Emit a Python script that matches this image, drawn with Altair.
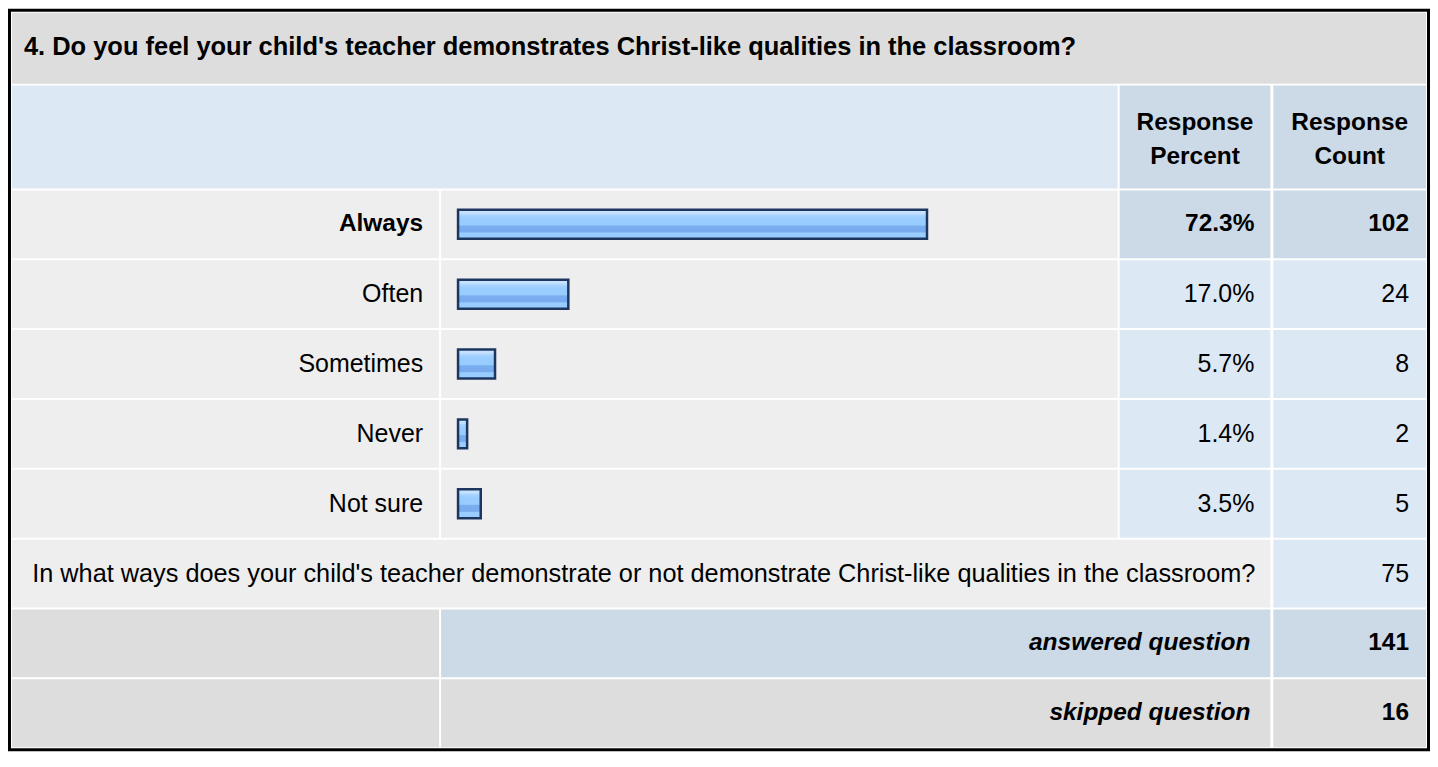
import altair as alt
import pandas as pd

# ---------------- data ----------------
question = "4. Do you feel your child's teacher demonstrates Christ-like qualities in the classroom?"
categories = ["Always", "Often", "Sometimes", "Never", "Not sure"]
percents = [72.3, 17.0, 5.7, 1.4, 3.5]
counts = [102, 24, 8, 2, 5]
header_labels = ["Response\nPercent", "Response\nCount"]
open_question = ("In what ways does your child's teacher demonstrate or not demonstrate "
                 "Christ-like qualities in the classroom?")
open_count = 75
summary_labels = ["answered question", "skipped question"]
summary_counts = [141, 16]

# ---------------- layout (pixels) ----------------
W, H = 1425, 744
GRAY, BLUE_L, BLUE_D, BODY = "#dddddd", "#dde8f5", "#ccd9e6", "#eeeeee"
C_LABEL = (4, 432)
C_BAR = (434, 1112)
C_PCT = (1114, 1265)
C_CNT = (1268, 1421)
TITLE_Y = (4, 75)
HEAD_Y = (77, 180)
ROW0, ROW_H, ROW_GAP = 182, 68, 2
BAR_RANGE = [451, 1101]
BAR_H = 29
FONT = "Liberation Sans"
FS_TITLE = 25.5
FS_BOLD = 24.5
FS_NORM = 25
FS_OPEN = 25.35


def row(i):
    s = ROW0 + i * (ROW_H + ROW_GAP)
    return s, s + ROW_H


def mid(a):
    return (a[0] + a[1]) / 2


cells = []


def cell(xr, yr, fill):
    cells.append(dict(x=xr[0], x2=xr[1], y=yr[0], y2=yr[1], fill=fill))


cell((0, W), (0, H), "#000000")
cell((3, W - 3), (3, H - 3), "#ffffff")
cell((C_LABEL[0], C_CNT[1]), TITLE_Y, GRAY)
cell((C_LABEL[0], C_BAR[1]), HEAD_Y, BLUE_L)
cell(C_PCT, HEAD_Y, BLUE_D)
cell(C_CNT, HEAD_Y, BLUE_D)
for i in range(len(categories)):
    r = row(i)
    cell(C_LABEL, r, BODY)
    cell(C_BAR, r, BODY)
    cell(C_PCT, r, BLUE_D if i == 0 else BLUE_L)
    cell(C_CNT, r, BLUE_D if i == 0 else BLUE_L)
r = row(5)
cell((C_LABEL[0], C_PCT[1]), r, BODY)
cell(C_CNT, r, BLUE_L)
r = row(6)
cell(C_LABEL, r, GRAY)
cell((C_BAR[0], C_PCT[1]), r, BLUE_D)
cell(C_CNT, r, BLUE_D)
r = row(7)
cell(C_LABEL, r, GRAY)
cell((C_BAR[0], C_PCT[1]), r, GRAY)
cell(C_CNT, r, GRAY)
cells_df = pd.DataFrame(cells)

xs = alt.Scale(domain=[0, W], range=[0, W], nice=False, zero=False)
ys = alt.Scale(domain=[0, H], range=[0, H], nice=False, zero=False)

rects = alt.Chart(cells_df).mark_rect(strokeWidth=0).encode(
    x=alt.X("x:Q", scale=xs, axis=None),
    x2="x2:Q",
    y=alt.Y("y:Q", scale=ys, axis=None),
    y2="y2:Q",
    color=alt.Color("fill:N", scale=None),
)

# bars
bar_df = pd.DataFrame({
    "category": categories,
    "pct": percents,
    "yc": [mid(row(i)) for i in range(len(categories))],
})
bar_df["ytop"] = bar_df["yc"] - BAR_H / 2
bar_df["ybot"] = bar_df["yc"] + BAR_H / 2

grad = alt.LinearGradient(
    gradient="linear",
    stops=[
        alt.GradientStop(color="#cfe7ff", offset=0.0),
        alt.GradientStop(color="#bfdfff", offset=0.14),
        alt.GradientStop(color="#a9d4ff", offset=0.18),
        alt.GradientStop(color="#99ccff", offset=0.3),
        alt.GradientStop(color="#99ccff", offset=0.52),
        alt.GradientStop(color="#79aeef", offset=0.56),
        alt.GradientStop(color="#77aaee", offset=0.76),
        alt.GradientStop(color="#99ccff", offset=0.8),
        alt.GradientStop(color="#99ccff", offset=1.0),
    ],
    x1=0, x2=0, y1=0, y2=1,
)
bars = alt.Chart(bar_df).transform_calculate(base="0").mark_rect(
    fill=grad, stroke="#1d3660", strokeWidth=2.5
).encode(
    x=alt.X("base:Q", scale=alt.Scale(domain=[0, 100], range=BAR_RANGE, nice=False), axis=None),
    x2="pct:Q",
    y=alt.Y("ytop:Q", scale=ys, axis=None),
    y2="ybot:Q",
)


# texts
def tlayer(df, fs, **kw):
    return alt.Chart(pd.DataFrame(df)).mark_text(
        font=FONT, fontSize=fs, baseline="middle", color="#000000", **kw
    ).encode(
        x=alt.X("x:Q", scale=xs, axis=None),
        y=alt.Y("y:Q", scale=ys, axis=None),
        text="text:N",
    )


LABEL_X = 416
PCT_X = 1249
CNT_X = 1404

title_t = tlayer([dict(x=16, y=mid(TITLE_Y) - 1, text=question)], FS_TITLE,
                 align="left", fontWeight="bold")
head_t = tlayer(
    [dict(x=mid(C_PCT), y=mid(HEAD_Y) - 14.5, text=header_labels[0]),
     dict(x=mid(C_CNT), y=mid(HEAD_Y) - 14.5, text=header_labels[1])],
    FS_BOLD, align="center", fontWeight="bold", lineBreak="\n", lineHeight=35,
)
bold_rows = []
norm_rows = []
for i, (c, p, n) in enumerate(zip(categories, percents, counts)):
    yc = mid(row(i))
    target = bold_rows if i == 0 else norm_rows
    target.append(dict(x=LABEL_X, y=yc, text=c))
    target.append(dict(x=PCT_X, y=yc, text=f"{p:.1f}%"))
    target.append(dict(x=CNT_X, y=yc, text=str(n)))
norm_rows.append(dict(x=CNT_X, y=mid(row(5)), text=str(open_count)))
for k, (lab, n) in enumerate(zip(summary_labels, summary_counts)):
    bold_rows.append(dict(x=CNT_X, y=mid(row(6 + k)), text=str(n)))

bold_t = tlayer(bold_rows, FS_BOLD, align="right", fontWeight="bold")
norm_t = tlayer(norm_rows, FS_NORM, align="right")
open_t = tlayer([dict(x=PCT_X + 1, y=mid(row(5)), text=open_question)], FS_OPEN, align="right")
ital_t = tlayer(
    [dict(x=1245, y=mid(row(6 + k)), text=lab) for k, lab in enumerate(summary_labels)],
    FS_BOLD, align="right", fontWeight="bold", fontStyle="italic",
)

chart = alt.layer(rects, bars, title_t, head_t, bold_t, norm_t, open_t, ital_t).resolve_scale(
    x="independent"
).properties(
    width=W, height=H, padding=0, autosize=alt.AutoSizeParams(type="none"),
    background="#ffffff",
).configure_view(stroke=None)

chart.save("out.html", embed_options={"renderer": "svg", "actions": False})
